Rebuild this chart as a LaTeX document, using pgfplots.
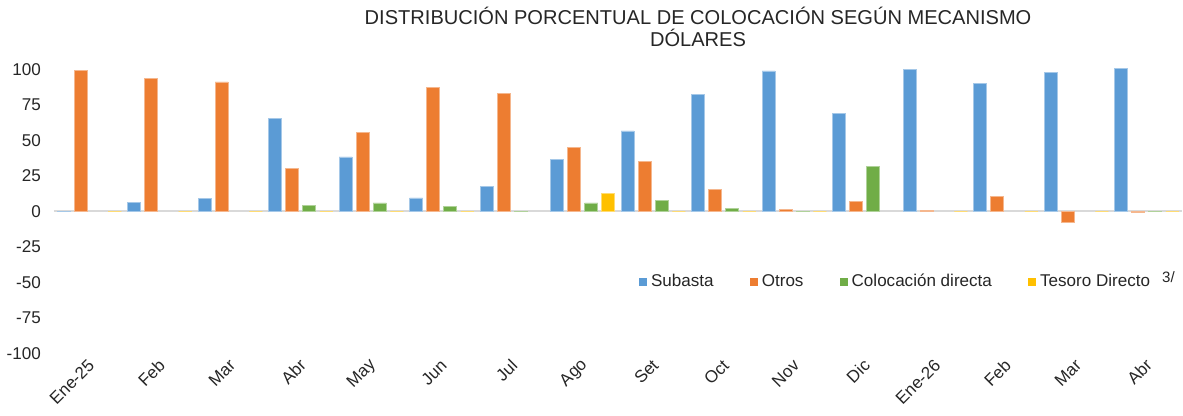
\documentclass[border=0pt]{standalone}
\usepackage{fontspec}
\setmainfont{Liberation Sans}
\usepackage{pgfplots}
\pgfplotsset{compat=1.18}
\definecolor{cSub}{HTML}{5B9BD5}
\definecolor{cOtr}{HTML}{ED7D31}
\definecolor{cCol}{HTML}{70AD47}
\definecolor{cTes}{HTML}{FFC000}
\definecolor{txt}{HTML}{262626}
\begin{document}
\begin{tikzpicture}
\begin{axis}[
  scale only axis,
  width=562.25pt, height=141.5pt,
  ybar=2pt, bar width=6.5pt,
  xmin=-0.5, xmax=15.5,
  ymin=-100, ymax=100,
  ytick={-100,-75,-50,-25,0,25,50,75,100},
  xtick={0,...,15},
  xticklabels={Ene-25,Feb,Mar,Abr,May,Jun,Jul,Ago,Set,Oct,Nov,Dic,Ene-26,Feb,Mar,Abr},
  axis line style={draw=none},
  major tick length=0pt,
  /pgf/number format/assume math mode=true,
  tick label style={font=\fontsize{8.5}{10}\selectfont, text=txt},
  yticklabel style={xshift=-3pt},
  xticklabel style={rotate=45, anchor=east, yshift=-4pt, xshift=1pt},
  extra y ticks={0},
  extra y tick labels={},
  extra y tick style={grid=major, major grid style={draw=black!15, line width=1pt}},
  title={DISTRIBUCIÓN PORCENTUAL DE COLOCACIÓN SEGÚN MECANISMO\\DÓLARES},
  title style={at={(0.571,1)}, anchor=south, yshift=2pt, align=center, font=\fontsize{10}{11}\selectfont, text=txt},
  legend columns=4,
  legend style={draw=none, fill=none, at={(0.513,0.253)}, anchor=west, font=\fontsize{8.5}{10}\selectfont, text=txt,
    /tikz/every even column/.append style={column sep=16pt}},
  legend image code/.code={\fill[#1,draw=none] (0pt,-2pt) rectangle (4pt,2pt);},
  clip=false,
]
\addplot[fill=cSub, draw=cSub!55!white, line width=0.4pt] coordinates {
 (0,0.3) (1,6.4) (2,9.0) (3,65.3) (4,38.4) (5,9.5) (6,17.6) (7,36.9)
 (8,56.7) (9,82.6) (10,99.0) (11,69.0) (12,100.3) (13,90.0) (14,97.6) (15,100.5)};
\addplot[fill=cOtr, draw=cOtr!55!white, line width=0.4pt] coordinates {
 (0,99.5) (1,93.8) (2,91.2) (3,30.3) (4,55.7) (5,87.6) (6,83.3) (7,45.2)
 (8,35.5) (9,15.5) (10,1.2) (11,6.9) (12,0.5) (13,10.5) (14,-7.4) (15,-0.5)};
\addplot[fill=cCol, draw=cCol!55!white, line width=0.4pt] coordinates {
 (3,4.1) (4,6.0) (5,3.8) (6,0.3) (7,6.0) (8,7.6) (9,1.9) (10,0.2) (11,31.9) (15,0.2)};
\addplot[fill=cTes, draw=cTes!55!white, line width=0.4pt] coordinates {
 (0,0) (1,0) (2,0) (3,0) (4,0) (5,0) (7,12.4) (8,0) (9,0) (10,0) (12,0) (13,0) (14,0) (15,0)};
\legend{Subasta,Otros,Colocación directa,Tesoro Directo}
\node[font=\fontsize{7.5}{9}\selectfont, text=txt, anchor=center] at (rel axis cs:0.988,0.27) {3/};
\end{axis}
\end{tikzpicture}
\end{document}
